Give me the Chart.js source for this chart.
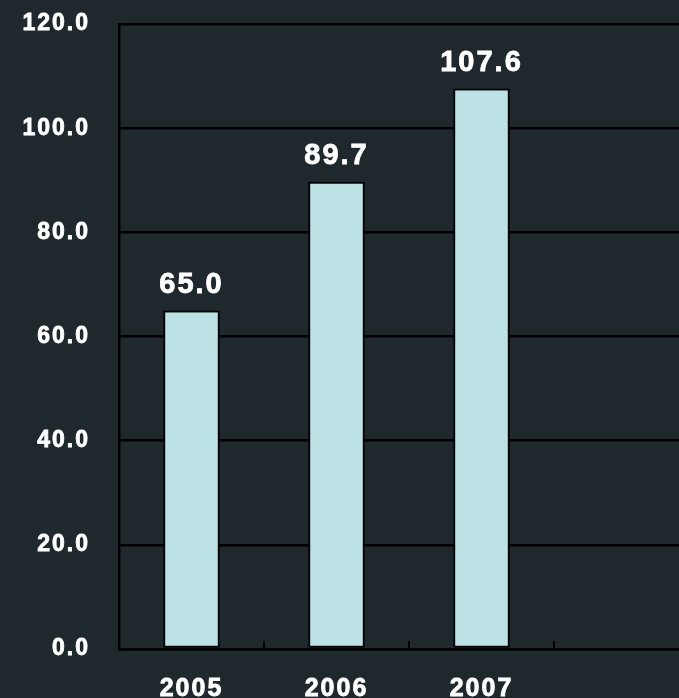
<!DOCTYPE html>
<html>
<head>
<meta charset="utf-8">
<script src="https://cdn.jsdelivr.net/npm/chart.js@4/dist/chart.umd.min.js"></script>
<style>
  html, body { margin: 0; padding: 0; background: #1f282c; overflow: hidden; }
  #chart { display: block; }
</style>
</head>
<body>
<canvas id="chart" width="699" height="698"></canvas>
<script>
    // chart data
    const years = ['2005', '2006', '2007', ''];
    const amounts = [65.0, 89.7, 107.6, null];
    const yMin = 0;
    const yMax = 120;
    const yStep = 20;

    const fontFamily = "'Liberation Sans', Arial, Helvetica, sans-serif";

    // wide tracking of the original lettering
    const spacingPlugin = {
        id: 'spacing',
        beforeDraw(chart) {
            chart.ctx.letterSpacing = '2px';
        }
    };

    // short ticks on the x axis, pointing up into the plot
    const innerTicks = {
        id: 'innerTicks',
        afterDatasetsDraw(chart) {
            let ctx = chart.ctx;
            let xScale = chart.scales.x;
            let bottom = chart.chartArea.bottom;
            ctx.save();
            ctx.strokeStyle = '#000';
            ctx.lineWidth = 2;
            for (let i = 0; i < years.length - 1; i++) {
                let x = Math.round((xScale.getPixelForValue(i) + xScale.getPixelForValue(i + 1)) / 2);
                ctx.beginPath();
                ctx.moveTo(x, bottom);
                ctx.lineTo(x, bottom - 8);
                ctx.stroke();
            }
            ctx.restore();
        }
    };

    // value above each bar
    const valueLabels = {
        id: 'valueLabels',
        afterDatasetsDraw(chart) {
            let ctx = chart.ctx;
            let meta = chart.getDatasetMeta(0);
            ctx.save();
            ctx.font = 'bold 29px ' + fontFamily;
            ctx.fillStyle = '#ffffff';
            ctx.strokeStyle = '#ffffff';
            ctx.lineWidth = 0.8;
            ctx.textAlign = 'center';
            ctx.textBaseline = 'alphabetic';
            meta.data.forEach((bar, i) => {
                if (amounts[i] === null) return;
                let txt = amounts[i].toFixed(1);
                ctx.fillText(txt, bar.x, bar.y - 17.5);
                ctx.strokeText(txt, bar.x, bar.y - 17.5);
            });
            ctx.restore();
        }
    };

    let ctx = document.getElementById('chart').getContext('2d');

    new Chart(ctx, {
        type: 'bar',
        data: {
            labels: years,
            datasets: [{
                data: amounts,
                backgroundColor: '#bce2e5',
                borderColor: '#000000',
                borderWidth: 2,
                borderSkipped: false,
                categoryPercentage: 1,
                barPercentage: 0.39
            }]
        },
        options: {
            responsive: false,
            animation: false,
            layout: {
                padding: { top: 24, left: 0, right: 0, bottom: 0 }
            },
            plugins: {
                legend: { display: false },
                tooltip: { enabled: false },
                title: { display: false }
            },
            scales: {
                x: {
                    grid: { display: false },
                    border: { display: true, color: '#000', width: 2.5 },
                    ticks: {
                        color: '#ffffff',
                        textStrokeColor: '#ffffff',
                        textStrokeWidth: 0.8,
                        padding: 17,
                        maxRotation: 0,
                        autoSkip: false,
                        font: { family: fontFamily, size: 25, weight: 'bold' }
                    },
                    afterFit(scale) {
                        scale.height = 49;
                    }
                },
                y: {
                    min: yMin,
                    max: yMax,
                    grid: {
                        color: '#000',
                        lineWidth: 2.5,
                        drawTicks: false
                    },
                    border: { display: true, color: '#000', width: 2.5 },
                    ticks: {
                        stepSize: yStep,
                        color: '#ffffff',
                        textStrokeColor: '#ffffff',
                        textStrokeWidth: 0.8,
                        padding: 29,
                        font: { family: fontFamily, size: 23, weight: 'bold' },
                        callback: (v) => v.toFixed(1)
                    },
                    afterFit(scale) {
                        scale.width = 119;
                        scale.paddingTop = 0;
                        scale.paddingBottom = 0;
                    }
                }
            }
        },
        plugins: [spacingPlugin, innerTicks, valueLabels]
    });
</script>
</body>
</html>
